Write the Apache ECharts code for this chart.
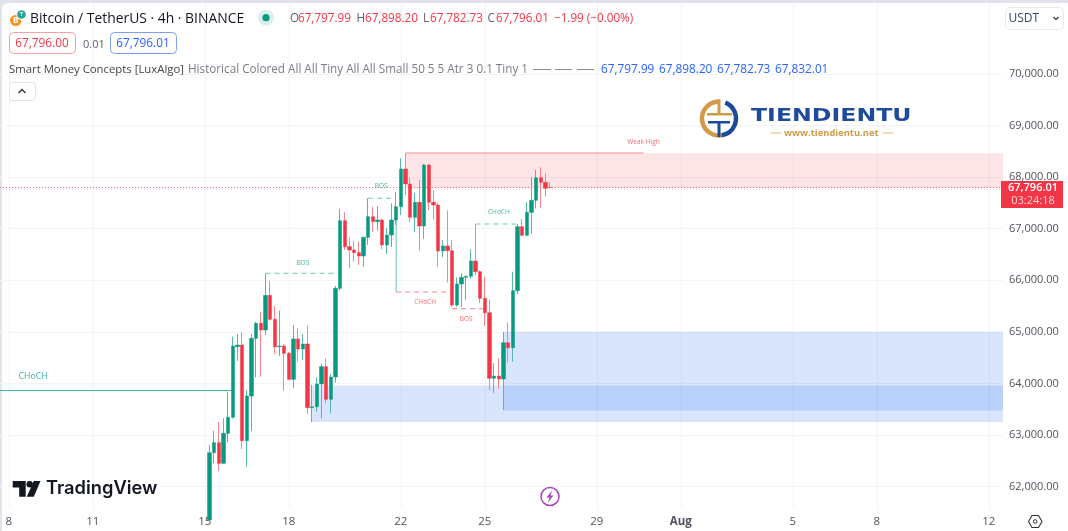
<!DOCTYPE html>
<html>
<head>
<meta charset="utf-8">
<title>Bitcoin / TetherUS 4h</title>
<script src="https://cdn.jsdelivr.net/npm/echarts@6/dist/echarts.min.js"></script>
<style>
html, body { margin: 0; padding: 0; width: 1068px; height: 531px; background: #e0e3eb; overflow: hidden; }
#card { position: absolute; left: 2px; top: 3px; width: 1066px; height: 528px; background: #fff; border-radius: 6px 0 0 0; }
#main { position: absolute; left: 0; top: 0; width: 1068px; height: 531px; }
</style>
</head>
<body>
<div id="card"></div>
<div id="main"></div>
<script>
// 4h bars, counted from Jul 8 00:00 (bar 0). first bar on screen is number 43
var firstBar = 43;
var opens = [61353,62657,62851,62452,63033,63343,64711,64744,62889,63756,64874,65165,65035,65707,65242,64711,64725,64583,64079,64860,64667,64764,63529,63548,63988,64324,63692,64124,65843,67153,66649,66585,66533,66469,66831,67231,67134,67167,66682,66876,67167,67424,68155,67864,67219,67510,67050,68233,67510,67457,66566,66663,66572,65519,65926,66056,66075,66372,66165,65649,65370,64099,64143,64085,64789,64692,65797,67037,66870,67316,67548,67986,67897,67797.99];
var highs = [62806,63083,63258,63324,63827,64905,64957,64990,63872,64957,65196,65390,66134,65990,65500,65409,64764,64608,65132,65068,64951,65118,63969,64118,64376,64486,64182,65888,67380,67322,66831,66766,66746,66840,67587,67424,67438,67190,67012,67490,67715,68362,68460,67994,67690,67942,68252,68252,67748,67502,66779,67347,66779,66056,66140,66090,66599,67089,66190,66068,65616,64389,64486,65002,65184,66165,67089,67186,67510,67994,68136,68188,68072,67898.20];
var lows = [61314,62452,62308,62442,62858,63320,64440,62729,62386,63077,64118,64130,64938,65219,64564,64531,63858,64070,63905,64421,64453,63407,63252,63452,63324,63614,63421,64014,65800,66585,66231,66359,66295,66262,66682,66940,66959,66599,66508,66643,67070,67264,67651,67122,66940,66572,66798,67360,67180,66262,66444,65959,65481,65486,65486,65616,66023,66101,65558,65112,63872,63820,63886,63484,64401,64421,65733,66850,66850,66895,67393,67393,67618,67782.73];
var closes = [62657,62851,62452,63033,63343,64725,64744,62889,63756,64874,65165,65035,65707,65242,64711,64725,64583,64079,64860,64667,64764,63529,63548,63988,64324,63692,64124,65843,67153,66649,66585,66533,66469,66831,67231,67134,67167,66682,66876,67167,67424,68155,67864,67219,67510,67050,68233,67510,67457,66566,66663,66572,65519,65926,66056,66075,66372,66165,65649,65370,64099,64143,64085,64789,64692,65797,67037,66870,67316,67548,67986,67897,67781,67796.01];
var lastPrice = 67796.01;

var priceTicks = [62000,63000,64000,65000,66000,67000,68000,69000,70000];
var dateTicks = [0,18,42,60,84,102,126,144,168,186,210];
var dateLabels = ['8','11','15','18','22','25','29','Aug','5','8','12'];

// order blocks: first bar, top, bottom
var redZone = [85, 68460, 67780];
var blueZoneA = [65, 63959, 63252];
var blueZoneB = [106, 65000, 63475];

// structure lines: bar, price, bar, price
var chochLeft = [-2, 63862, 48, 63862];
var bosOne = [55, 66134, 71, 66134];
var bosTwo = [77, 67587, 83, 67587];
var chochDrop = [83, 67424, 83, 65771];
var chochRed = [83, 65771, 95, 65771];
var bosRed = [95, 65448, 102, 65448];
var chochUp = [100, 67089, 109, 67089];
var weakHigh = [85, 68465, 136, 68465];

// structure labels: text, bar, price
var greenLabels = [['BOS',63,66333],['BOS',79.8,67826],['CHoCH',105,67322]];
var redLabels = [['CHoCH',89.2,65578],['BOS',98,65248],['Weak High',136,68678]];
var chochLabel = ['CHoCH',5.2,64124];

var UP = '#089981', DOWN = '#f23645';
var FONT = '"Open Sans", sans-serif';
var X_MIN = -1.886, X_MAX = 213.03, Y_MIN = 61566, Y_MAX = 71372;

var wickData = [], bodyData = [];
for (var i = 0; i < opens.length; i++) {
    wickData.push([firstBar + i, opens[i], closes[i], lows[i], highs[i]]);
    bodyData.push([firstBar + i, opens[i], closes[i], Math.min(opens[i], closes[i]), Math.max(opens[i], closes[i])]);
}

function zoneArea(z, color) {
    return [{ xAxis: z[0], yAxis: z[1], itemStyle: { color: color } }, { xAxis: X_MAX, yAxis: z[2] }];
}

function lineSeries(seg, color, type, width) {
    return {
        type: 'line', silent: true, symbol: 'none', z: 3,
        lineStyle: { color: color, type: type, width: width || 1 },
        data: [[seg[0], seg[1]], [seg[2], seg[3]]]
    };
}

function labelItem(l, color, size) {
    return { value: [l[1], l[2]], name: l[0], label: { color: color, fontSize: size } };
}

// header texts, logos and other chrome around the plot
function txt(x, y, s, color, size, extra) {
    var style = { x: x, y: y + 1, text: s, fill: color, font: (extra && extra.weight || 'normal') + ' ' + size + 'px ' + (extra && extra.family || FONT), textVerticalAlign: 'middle', textAlign: extra && extra.align || 'left' };
    return { type: 'text', silent: true, z: 100, style: style };
}
function box(x, y, w, h, r, stroke, fill) {
    return { type: 'rect', silent: true, z: 99, shape: { x: x + 0.5, y: y + 0.5, width: w, height: h, r: r }, style: { stroke: stroke, fill: fill || '#fff', lineWidth: 1 } };
}
function poly(points, fill) {
    return { type: 'polygon', silent: true, z: 100, shape: { points: points }, style: { fill: fill } };
}
function dot(cx, cy, r, fill) {
    return { type: 'circle', silent: true, z: 100, shape: { cx: cx, cy: cy, r: r }, style: { fill: fill } };
}
function bar(x, y, w, h, fill) {
    return { type: 'rect', silent: true, z: 100, shape: { x: x, y: y, width: w, height: h }, style: { fill: fill } };
}

var GREY = '#5d606b', DARK = '#131722', BLUE = '#2962ff', GOLD = '#cf9b48', NAVY = '#1d4a9c';
var chrome = [
    // symbol row
    dot(15.7, 20.5, 5.6, '#f7931a'),
    txt(15.7, 19.7, 'B', '#fff', 8, { align: 'center', weight: 'bold' }),
    dot(21.5, 14.5, 5.3, '#fff'),
    dot(21.5, 14.5, 4.3, '#26a69a'),
    txt(21.5, 13.7, 'T', '#fff', 6, { align: 'center', weight: 'bold' }),
    txt(30, 18, 'Bitcoin / TetherUS · 4h · BINANCE', DARK, 13.9),
    dot(266, 17.7, 8, '#d9f0ec'),
    dot(266, 17.7, 3.6, UP),
    txt(290, 18, 'O', GREY, 11.7), txt(298, 18, '67,797.99', DOWN, 11.7),
    txt(356.5, 18, 'H', GREY, 11.7), txt(365, 18, '67,898.20', DOWN, 11.7),
    txt(423, 18, 'L', GREY, 11.7), txt(430, 18, '67,782.73', DOWN, 11.7),
    txt(487.5, 18, 'C', GREY, 11.7), txt(496, 18, '67,796.01', DOWN, 11.7),
    txt(554, 18, '−1.99 (−0.00%)', DOWN, 11.7),
    // bid / ask
    box(9, 32, 66, 21, 4, '#f7a1a8'),
    txt(42, 43, '67,796.00', DOWN, 11.8, { align: 'center' }),
    txt(83, 43.5, '0.01', GREY, 11),
    box(110, 32, 66, 21, 4, '#7f9ffb'),
    txt(143, 43, '67,796.01', BLUE, 11.8, { align: 'center' }),
    // indicator row
    txt(9, 69, 'Smart Money Concepts [LuxAlgo]', '#444', 11.35),
    txt(188, 69, 'Historical Colored All All Tiny All All Small 50 5 5 Atr 3 0.1 Tiny 1', '#7a7d86', 11.7),
    bar(533, 69, 18, 1, '#8a8d95'), bar(555, 69, 17, 1, '#8a8d95'), bar(577, 69, 17, 1, '#8a8d95'),
    txt(601, 69, '67,797.99', BLUE, 11.8), txt(659, 69, '67,898.20', BLUE, 11.8),
    txt(717, 69, '67,782.73', BLUE, 11.8), txt(775, 69, '67,832.01', BLUE, 11.8),
    box(9, 82, 26, 18, 3, '#e0e3eb'),
    { type: 'polyline', silent: true, z: 100, shape: { points: [[18.5, 93], [22, 89.5], [25.5, 93]] }, style: { stroke: '#333', lineWidth: 1.4, fill: null } },
    // currency box
    box(1005, 7, 58, 22, 4, '#e9ebf1'),
    txt(1008.5, 18, 'USDT', '#3a4a5e', 12),
    { type: 'polyline', silent: true, z: 100, shape: { points: [[1053.5, 17], [1056, 19.5], [1058.5, 17]] }, style: { stroke: '#333', lineWidth: 1.2, fill: null } },
    // price tag
    { type: 'rect', silent: true, z: 99, shape: { x: 1001, y: 181, width: 62, height: 27 }, style: { fill: DOWN } },
    txt(1033, 187, '67,796.01', '#fff', 11, { align: 'center', weight: '600' }),
    txt(1033, 200, '03:24:18', '#ffd5d8', 11, { align: 'center' }),
    // site logo
    { type: 'arc', silent: true, z: 100, shape: { cx: 719, cy: 118.5, r: 17, startAngle: Math.PI * 0.45, endAngle: Math.PI * 1.52, clockwise: true }, style: { stroke: GOLD, lineWidth: 4.5, fill: null } },
    { type: 'arc', silent: true, z: 100, shape: { cx: 719, cy: 118.5, r: 17, startAngle: -Math.PI * 0.38, endAngle: Math.PI * 0.45, clockwise: true }, style: { stroke: NAVY, lineWidth: 4.5, fill: null } },
    bar(707, 113, 25, 2.5, GOLD), bar(717.5, 100, 3, 13, GOLD),
    bar(708, 121, 22, 2.5, NAVY), bar(717.5, 121, 3, 16, NAVY),
    { type: 'text', silent: true, z: 100, x: 751, y: 116.5, scaleX: 1.39, style: { x: 0, y: 0, text: 'TIENDIENTU', fill: NAVY, font: 'bold 17px "DejaVu Sans"', textVerticalAlign: 'middle' } },
    txt(784, 132, 'www.tiendientu.net', GOLD, 9.4, { weight: 'bold' }),
    bar(771, 132.5, 10, 1.2, '#e8c48c'), bar(883, 132.5, 10, 1.2, '#e8c48c'),
    // TradingView mark
    poly([[12.7, 481], [25.7, 481], [25.7, 496.8], [19.2, 496.8], [19.2, 487.5], [12.7, 487.5]], DARK),
    dot(29.7, 484.3, 3.2, DARK),
    poly([[33.8, 481], [40.5, 481], [33.8, 496.8], [26.8, 496.8]], DARK),
    txt(46, 488, 'TradingView', DARK, 18.3, { weight: '600', family: 'Inter' }),
    // zap icon
    { type: 'circle', silent: true, z: 100, shape: { cx: 550, cy: 496.5, r: 9 }, style: { stroke: '#ab47bc', lineWidth: 1.5, fill: '#fff' } },
    poly([[552, 490.5], [546.5, 497.5], [549.5, 497.5], [548, 502.5], [553.5, 495.5], [550.5, 495.5]], '#ab47bc'),
    // settings
    { type: 'polygon', silent: true, z: 100, shape: { points: [[1028.5, 521.5], [1032, 515.5], [1038.5, 515.5], [1042, 521.5], [1038.5, 527.5], [1032, 527.5]] }, style: { stroke: '#333', lineWidth: 1.1, fill: '#fff' } },
    { type: 'circle', silent: true, z: 100, shape: { cx: 1035.2, cy: 521.5, r: 1.8 }, style: { stroke: '#333', lineWidth: 1, fill: '#fff' } }
];

var myChart = echarts.init(document.getElementById('main'), null, { renderer: 'canvas' });

var option = {
    animation: false,
    backgroundColor: 'transparent',
    textStyle: { fontFamily: FONT },
    grid: { left: 0, right: 65, top: 3, bottom: 22 },
    xAxis: {
        type: 'value', min: X_MIN, max: X_MAX,
        axisLine: { show: false },
        axisTick: { show: false, customValues: dateTicks },
        splitLine: { show: true, lineStyle: { color: '#f3f4f6', width: 1 } },
        axisLabel: {
            customValues: dateTicks, margin: 7, color: '#50535e', fontSize: 11.5, hideOverlap: false,
            showMinLabel: true, showMaxLabel: true,
            formatter: function (v) {
                var s = dateLabels[dateTicks.indexOf(v)];
                return s === 'Aug' ? '{b|Aug}' : s;
            },
            rich: { b: { fontWeight: 'bold', fontSize: 11.5, color: '#50535e' } }
        }
    },
    yAxis: {
        type: 'value', position: 'right', min: Y_MIN, max: Y_MAX, scale: true,
        axisLine: { show: false },
        axisTick: { show: false, customValues: priceTicks },
        splitLine: { show: true, lineStyle: { color: '#f3f4f6', width: 1 } },
        axisLabel: {
            customValues: priceTicks, margin: 6, color: '#50535e', fontSize: 11, padding: [0, 0, 2, 0],
            formatter: function (v) { return echarts.format.addCommas(v) + '.00'; }
        }
    },
    series: [
        {
            type: 'candlestick', name: 'wick', barWidth: 1, z: 4, silent: true,
            encode: { x: 0, y: [1, 2, 3, 4] },
            itemStyle: { color: '#57b8a8', color0: '#f7858e', borderColor: '#57b8a8', borderColor0: '#f7858e', borderWidth: 1 },
            markArea: {
                silent: true, z: 1,
                data: [
                    zoneArea(redZone, 'rgba(242,54,69,0.13)'),
                    zoneArea(blueZoneA, 'rgba(41,110,240,0.18)'),
                    zoneArea(blueZoneB, 'rgba(41,110,240,0.18)')
                ]
            },
            data: wickData
        },
        {
            type: 'candlestick', name: 'body', barWidth: 3.8, z: 5, silent: true,
            encode: { x: 0, y: [1, 2, 3, 4] },
            itemStyle: { color: UP, color0: DOWN, borderColor: UP, borderColor0: DOWN, borderWidth: 0.5 },
            data: bodyData
        },
        lineSeries(chochLeft, '#3fb19f', 'solid'),
        lineSeries(bosOne, '#6cc5b6', [5, 4]),
        lineSeries(bosTwo, '#6cc5b6', [5, 4]),
        lineSeries(chochDrop, '#6cc5b6', 'solid'),
        lineSeries(chochRed, '#f7858e', [5, 4]),
        lineSeries(bosRed, '#f7858e', [5, 4]),
        lineSeries(chochUp, '#6cc5b6', [5, 4]),
        lineSeries(weakHigh, '#f7858e', 'solid'),
        lineSeries([X_MIN, lastPrice, X_MAX, lastPrice], '#f4656f', [1, 2]),
        {
            type: 'scatter', symbolSize: 0, silent: true, z: 6,
            label: { show: true, position: 'inside', formatter: '{b}' },
            data: greenLabels.map(function (l) { return labelItem(l, '#1fa18c', 6.5); })
                .concat(redLabels.map(function (l) { return labelItem(l, '#f2444f', 6.5); }))
                .concat([labelItem(chochLabel, '#14998a', 8.7)])
        }
    ],
    graphic: { elements: chrome }
};
myChart.setOption(option);
</script>
</body>
</html>
